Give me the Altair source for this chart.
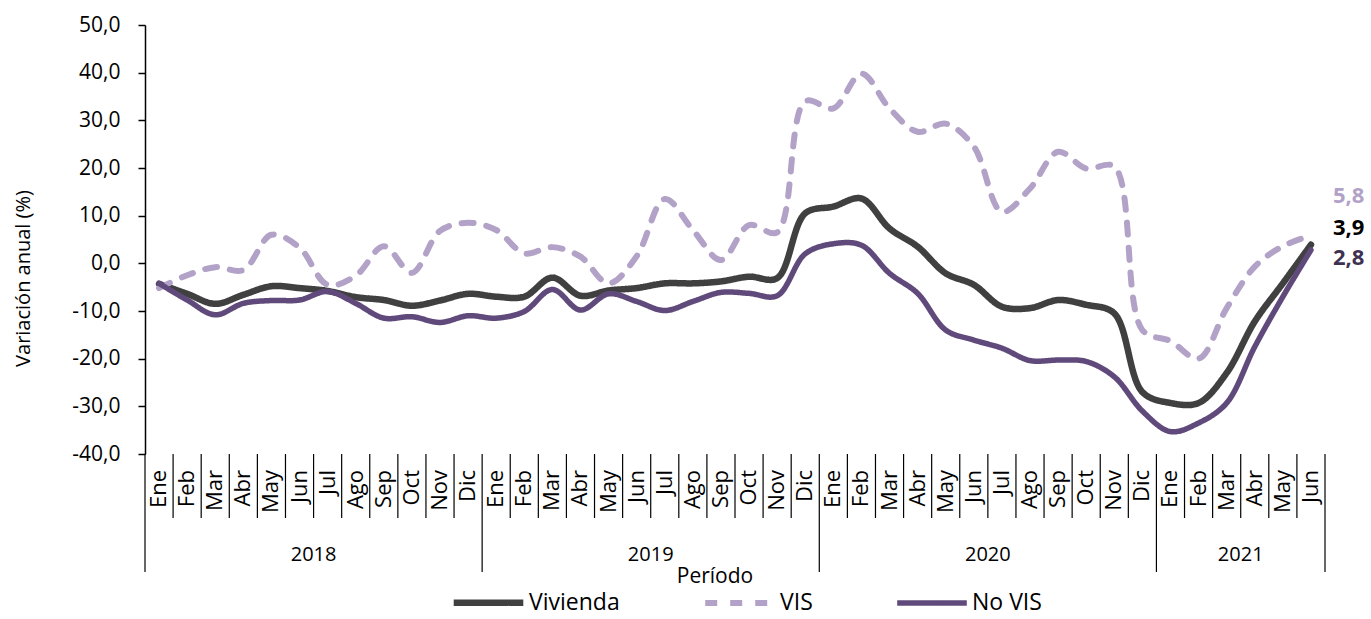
import altair as alt
import pandas as pd

# Etiquetas del eje temporal
meses = ["Ene", "Feb", "Mar", "Abr", "May", "Jun", "Jul", "Ago", "Sep", "Oct", "Nov", "Dic"]
anios = ["2018", "2019", "2020", "2021"]
meses_por_anio = [12, 12, 12, 6]

series = ["Vivienda", "VIS", "No VIS"]

# Variación anual (%) por mes, ene-2018 a jun-2021
vivienda = [
    -4.3, -6.4, -8.5, -6.6, -4.8, -5.2, -5.8, -7.1, -7.7, -8.9, -7.8, -6.4,
    -7.0, -7.0, -3.0, -6.8, -5.7, -5.2, -4.2, -4.2, -3.8, -2.8, -3.1, 10.5,
    11.9, 13.6, 7.3, 3.5, -2.1, -4.5, -9.1, -9.4, -7.7, -8.7, -10.5, -27.0,
    -29.3, -29.3, -23.0, -12.2, -4.2, 3.9,
]
vis = [
    -5.2, -2.5, -0.8, -1.4, 6.0, 3.3, -4.5, -2.6, 3.6, -2.0, 6.8, 8.5,
    7.0, 2.1, 3.4, 1.4, -4.2, 1.5, 13.5, 7.0, 0.7, 8.0, 6.5, 34.0,
    32.5, 39.8, 32.5, 27.6, 29.3, 24.5, 10.8, 15.7, 23.4, 19.9, 20.3, -14.0,
    -16.3, -20.0, -9.4, -0.7, 3.6, 5.8,
]
no_vis = [
    -4.2, -7.7, -10.8, -8.4, -7.8, -7.7, -5.9, -8.4, -11.5, -11.2, -12.4, -11.0,
    -11.5, -10.1, -5.5, -9.8, -6.4, -8.0, -9.9, -8.0, -6.1, -6.3, -6.8, 2.0,
    4.1, 3.8, -2.1, -6.3, -14.0, -16.1, -17.8, -20.4, -20.3, -20.6, -23.8, -31.0,
    -35.3, -33.5, -29.3, -17.5, -7.0, 2.8,
]

colores = ["#404040", "#B3A2C7", "#604A7B"]
colores_etiqueta = ["#000000", "#B3A2C7", "#3F3151"]
fuente = "Open Sans"

# Tabla de periodos (una fila por mes)
periodos = []
for anio, n in zip(anios, meses_por_anio):
    for m in meses[:n]:
        periodos.append({"anio": anio, "mes": m})
periodo_df = pd.DataFrame(periodos)
periodo_df["pos"] = periodo_df.index + 0.5
n_total = len(periodo_df)

# Datos en formato largo
filas = []
for nombre, valores in zip(series, [vivienda, vis, no_vis]):
    for i, v in enumerate(valores):
        filas.append({"serie": nombre, "pos": i + 0.5, "valor": v})
datos = pd.DataFrame(filas)

# Límites de mes y de año bajo el gráfico
limites_anio = [0]
for n in meses_por_anio:
    limites_anio.append(limites_anio[-1] + n)
limites_mes = [b for b in range(n_total + 1) if b not in limites_anio]
anio_df = pd.DataFrame({
    "anio": anios,
    "centro": [(a + b) / 2 for a, b in zip(limites_anio[:-1], limites_anio[1:])],
})

W, H = 1180, 429
y_min, y_max = -40, 50
offset_cero = -H * (0 - y_min) / (y_max - y_min)

formato_coma = "replace(replace(format({v}, '.1f'), '.', ','), '\u2212', '-')"


def eje_x(campo, con_eje=False):
    return alt.X(
        campo,
        type="quantitative",
        scale=alt.Scale(domain=[0, n_total], nice=False, zero=False),
        axis=alt.Axis(
            values=list(range(0, n_total + 1)),
            labels=False, grid=False, title=None,
            tickSize=7, tickWidth=1.5, tickColor="black",
            domainColor="black", domainWidth=1.5,
            offset=offset_cero,
        ) if con_eje else None,
    )


eje_y = alt.Y(
    "valor:Q",
    scale=alt.Scale(domain=[y_min, y_max], nice=False),
    axis=alt.Axis(
        values=list(range(y_min, y_max + 1, 10)),
        labelExpr=formato_coma.format(v="datum.value"),
        grid=False, tickSize=7, tickWidth=1.5, tickColor="black",
        domainColor="black", domainWidth=1.5,
        labelFontSize=21, labelFont=fuente, labelColor="black", labelPadding=18,
        title="Variación anual (%)", titleFont=fuente, titleFontSize=20,
        titleFontWeight="normal", titleColor="black",
        titleAngle=270, titleAlign="center", titleBaseline="middle",
        titleX=-122, titleY=253,
    ),
)

lineas = alt.Chart(datos).mark_line(interpolate="catmull-rom", strokeCap="round", strokeJoin="round").encode(
    x=eje_x("pos", con_eje=True),
    y=eje_y,
    color=alt.Color("serie:N", scale=alt.Scale(domain=series, range=colores),
                    legend=alt.Legend(title=None)),
    strokeDash=alt.StrokeDash("serie:N", scale=alt.Scale(domain=series, range=[[1, 0], [12, 13], [1, 0]]),
                              legend=alt.Legend(title=None)),
    strokeWidth=alt.StrokeWidth("serie:N", scale=alt.Scale(domain=series, range=[6.5, 5.5, 4.5]), legend=None),
)

# Etiquetas del último dato de cada serie
desplaz = {"Vivienda": -17, "VIS": -40, "No VIS": 8}
finales = []
for nombre, col in zip(series, colores_etiqueta):
    ult = datos[datos["serie"] == nombre].tail(1)
    finales.append(
        alt.Chart(ult).transform_calculate(
            texto=formato_coma.format(v="datum.valor")
        ).mark_text(
            align="left", baseline="middle", dx=22, dy=desplaz[nombre],
            fontSize=22, fontWeight="bold", font=fuente, color=col,
        ).encode(x=eje_x("pos"), y=eje_y, text="texto:N")
    )

# Separadores de mes y de año
sep_mes = alt.Chart(pd.DataFrame({"b": limites_mes})).mark_rule(color="black", strokeWidth=1.2).encode(
    x=eje_x("b"), y=alt.value(H), y2=alt.value(H + 64),
)
sep_anio = alt.Chart(pd.DataFrame({"b": limites_anio})).mark_rule(color="black", strokeWidth=1.2).encode(
    x=eje_x("b"), y=alt.value(H), y2=alt.value(H + 118),
)

etq_mes = alt.Chart(periodo_df).mark_text(
    angle=270, align="right", baseline="middle", fontSize=22, font=fuente, color="black",
).encode(x=eje_x("pos"), y=alt.value(H + 16), text="mes:N")

etq_anio = alt.Chart(anio_df).mark_text(
    baseline="middle", fontSize=20, font=fuente, color="black",
).encode(x=eje_x("centro"), y=alt.value(H + 101), text="anio:N")

titulo_x = alt.Chart(pd.DataFrame({"t": ["Período"]})).mark_text(
    baseline="middle", fontSize=21, font=fuente, color="black",
).encode(x=alt.value(570), y=alt.value(H + 123), text="t:N")

chart = alt.layer(
    sep_mes, sep_anio, etq_mes, etq_anio, titulo_x, lineas, *finales
).properties(
    width=W, height=H,
    autosize=alt.AutoSizeParams(type="none"),
    padding={"left": 145, "top": 25, "right": 1371 - 145 - W, "bottom": 619 - 25 - H},
).configure_view(
    stroke=None
).configure_legend(
    orient="none", legendX=328, legendY=562, direction="horizontal",
    symbolType="M-2.9,0H2.9", symbolSize=576, symbolStrokeWidth=7,
    labelFontSize=23, labelFont=fuente, labelColor="black", labelOffset=25,
    columnPadding=73, padding=0,
)

chart.save("out.html", embed_options={"renderer": "svg", "actions": False})
